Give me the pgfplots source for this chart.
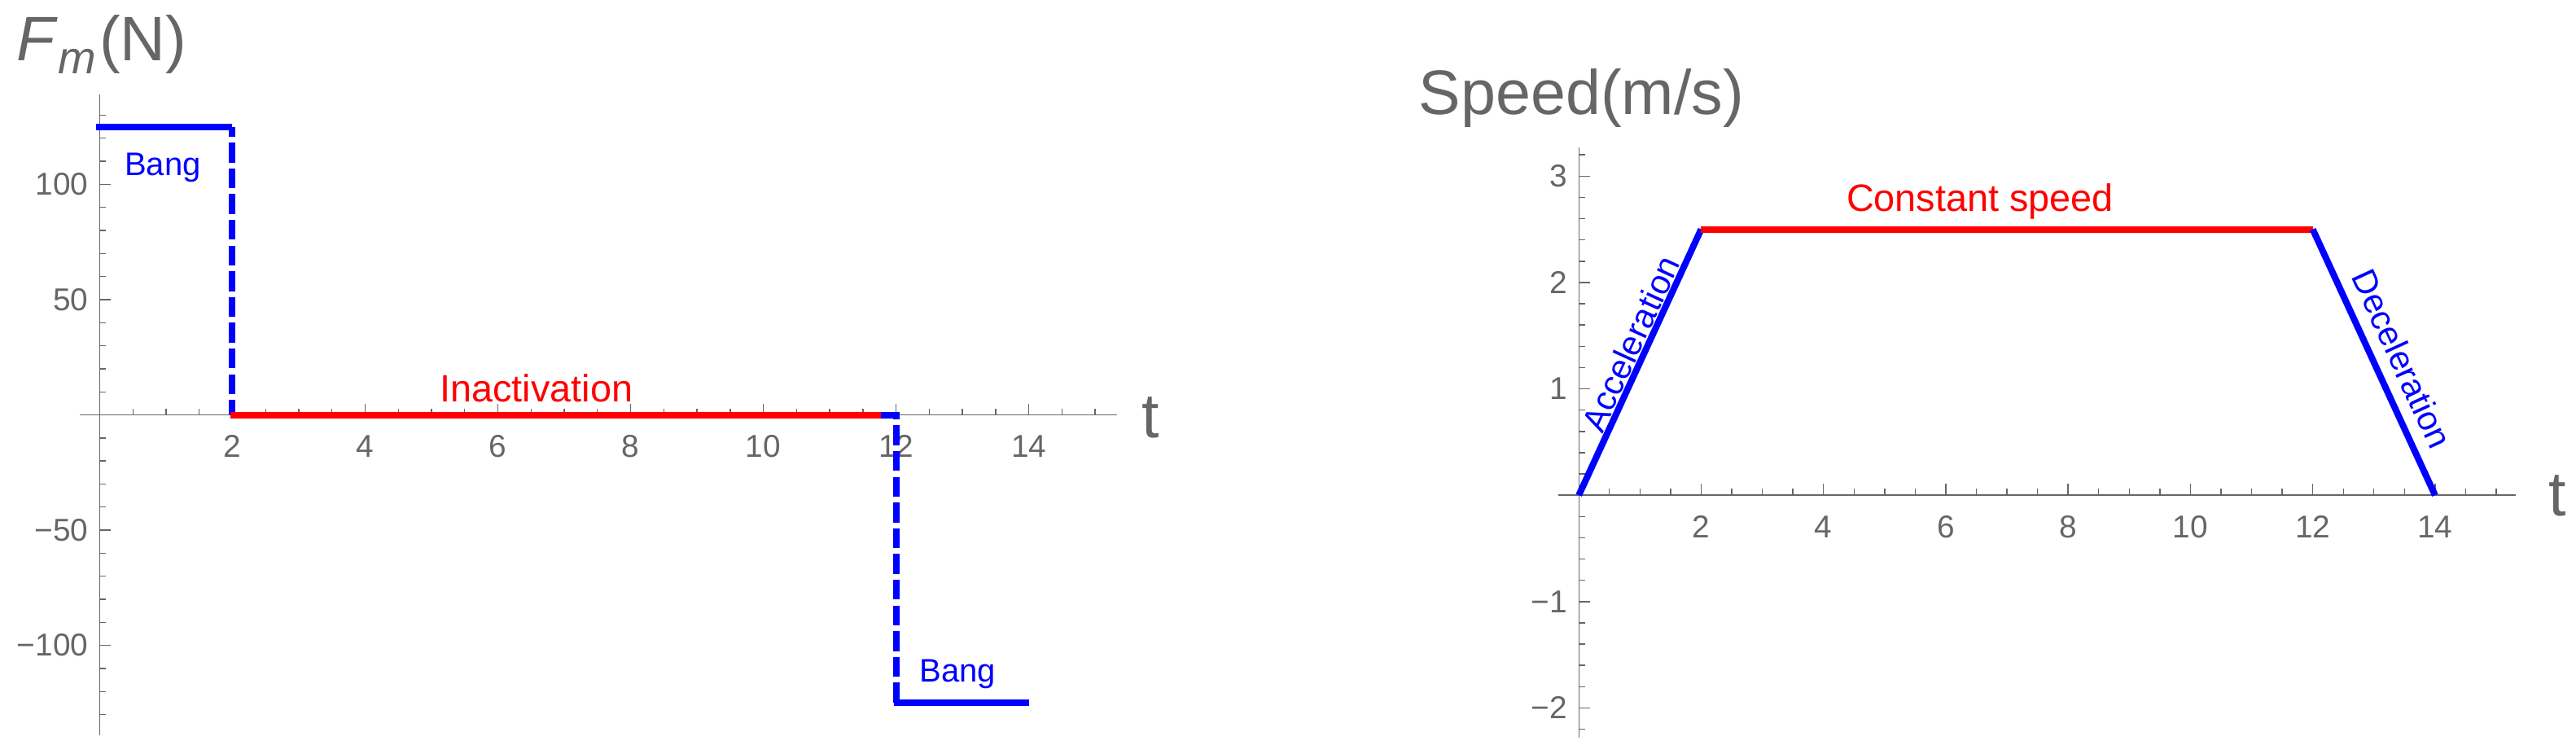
\documentclass[border=0pt]{standalone}
\usepackage{fontspec}
\setmainfont{Liberation Sans}
\usepackage{pgfplots}
\pgfplotsset{compat=1.18}
\definecolor{axgray}{RGB}{102,102,102}
\newcommand{\bigfont}{\fontsize{19.3}{22}\selectfont}
\pgfplotsset{
  mmastyle/.style={
    scale only axis,
    anchor=south west,
    axis lines=middle,
    axis line style={-, draw=axgray, line width=0.35pt},
    tick style={draw=axgray, line width=0.35pt},
    major tick length=3.5pt,
    minor tick length=2pt,
    tick align=inside,
    clip=false,
    /pgf/number format/assume math mode=true,
    ticklabel style={font=\fontsize{9.7}{11}\selectfont, text=axgray},
    xticklabel style={yshift=-2.8pt},
    xtick={2,4,...,14},
    minor xtick={0.5,1,...,15},
  },
  lw/.style={line width=2pt},
  dsh/.style={dash pattern=on 6.1pt off 1.8pt},
}
\begin{document}
\begin{tikzpicture}
\path[use as bounding box] (0,0) rectangle (791pt,231.25pt);
% ---------- left: force ----------
\begin{axis}[mmastyle,
  at={(24.5pt,5.5pt)}, width=318.5pt, height=196.75pt,
  xmin=-0.30, xmax=15.33, ymin=-139, ymax=139,
  ytick={-100,-50,50,100},
  yticklabels={−100,−50,50,100},
  minor ytick={-130,-120,...,130},
]
\addplot[blue, lw] coordinates {(-0.05,125) (2,125)};
\addplot[blue, lw, dsh, dash phase=3pt] coordinates {(2,125) (2,0)};
\addplot[red, lw] coordinates {(1.97,0) (11.77,0)};
\addplot[blue, lw, dsh] coordinates {(11.77,0) (12,0) (12,-125)};
\addplot[blue, lw] coordinates {(11.97,-125) (14,-125)};
\node[anchor=base, inner sep=0pt, text=blue, font=\fontsize{10}{12}\selectfont] at (axis cs:0.95,104) {Bang};
\node[anchor=base, inner sep=0pt, text=red, font=\fontsize{11.7}{14}\selectfont] at (axis cs:6.58,5.8) {Inactivation};
\node[anchor=base, inner sep=0pt, text=blue, font=\fontsize{10}{12}\selectfont] at (axis cs:12.93,-115.8) {Bang};
\node[anchor=base west, inner sep=0pt, text=axgray, font=\bigfont] at (axis cs:15.70,-9.8) {t};
\end{axis}
% ---------- right: speed ----------
\begin{axis}[mmastyle,
  at={(478.5pt,4.75pt)}, width=294pt, height=181.25pt,
  xmin=-0.335, xmax=15.32, ymin=-2.28, ymax=3.27,
  ytick={-2,-1,1,2,3},
  yticklabels={−2,−1,1,2,3},
  minor ytick={-2.2,-2,...,3.2},
]
\addplot[blue, lw] coordinates {(0,0) (2,2.5)};
\addplot[red, lw] coordinates {(2,2.5) (12,2.5)};
\addplot[blue, lw] coordinates {(12,2.5) (14,0)};
\node[anchor=base, inner sep=0pt, text=red, font=\fontsize{11.7}{14}\selectfont] at (axis cs:6.56,2.67) {Constant speed};
\node[anchor=south, inner sep=1.0pt, rotate=65.3, text=blue, font=\fontsize{10.5}{12}\selectfont] at (axis cs:1.09,1.36) {Acceleration};
\node[anchor=south, inner sep=4.2pt, rotate=-65.3, text=blue, font=\fontsize{10.5}{12}\selectfont] at (axis cs:13.06,1.177) {Deceleration};
\node[anchor=base west, inner sep=0pt, text=axgray, font=\bigfont] at (axis cs:15.85,-0.19) {t};
\end{axis}
% ---------- titles ----------
\node[anchor=base west, inner sep=0pt, text=axgray, font=\bigfont] at (5pt,212.75pt) {\textit{F}\raisebox{-4pt}{\fontsize{14}{16}\selectfont\textit{m}}\kern1pt(N)};
\node[anchor=base west, inner sep=0pt, text=axgray, font=\bigfont] at (435.5pt,196.25pt) {Speed(m/s)};
\end{tikzpicture}
\end{document}
